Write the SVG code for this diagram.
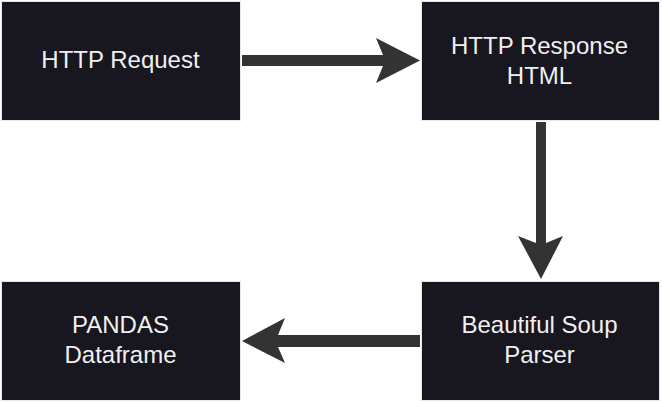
<svg xmlns="http://www.w3.org/2000/svg" width="662" height="402" viewBox="0 0 662 402">
<style>
.box{fill:#18161f;stroke:#e6e6e6;stroke-width:1}
.lbl{font-family:"Liberation Sans",Arial,sans-serif;font-size:24px;fill:#f0f0f0;text-anchor:middle}
.arr{fill:#333333;stroke:none}
</style>
<rect width="662" height="402" fill="#ffffff"/>
<g id="connectors">
<polygon class="arr" points="242,55 383,55 376,38 420,60.5 376,83 383,66 242,66"/>
<polygon class="arr" points="536,122 546,122 546,243 563,236 541,279 518,236 536,243"/>
<polygon class="arr" points="420,335 420,347 278,347 285,363 242,341 285,318 278,335"/>
</g>
<g id="node-http-request">
<rect class="box" x="1.5" y="1.5" width="239" height="119"/>
<text class="lbl" x="120.5" y="68">HTTP Request</text>
</g>
<g id="node-http-response">
<rect class="box" x="421.5" y="1.5" width="238" height="119"/>
<text class="lbl" x="539.5" y="53.5">HTTP Response</text>
<text class="lbl" x="539.5" y="83.5">HTML</text>
</g>
<g id="node-pandas">
<rect class="box" x="1.5" y="281.5" width="239" height="119"/>
<text class="lbl" x="120.5" y="332.5">PANDAS</text>
<text class="lbl" x="120.5" y="362.5">Dataframe</text>
</g>
<g id="node-beautiful-soup">
<rect class="box" x="421.5" y="281.5" width="238" height="119"/>
<text class="lbl" x="539.5" y="333">Beautiful Soup</text>
<text class="lbl" x="539.5" y="363">Parser</text>
</g>
</svg>
